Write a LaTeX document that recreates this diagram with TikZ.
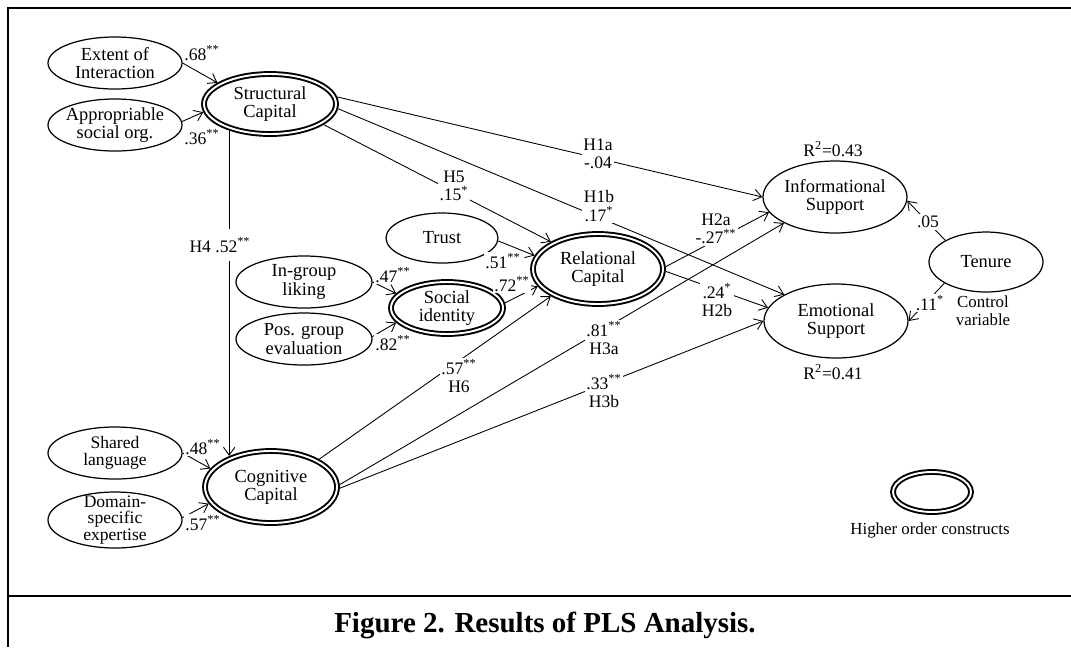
\documentclass[tikz,border=0pt]{standalone}
\usepackage{fontspec}
\setmainfont{Liberation Serif}
\usetikzlibrary{shapes.geometric,arrows.meta}
\tikzset{
  oval/.style 2 args={ellipse, draw, line width=0.7pt, minimum width=#1*0.02cm, minimum height=#2*0.02cm, inner sep=0pt},
  dbl/.style 2 args={ellipse, draw, line width=1.1pt, double, double distance=1.1pt, minimum width=#1*0.02cm, minimum height=#2*0.02cm, inner sep=0pt, outer sep=1.65pt},
  txt/.style={align=center, font=\fontsize{10.5}{10.4}\selectfont, inner sep=0pt},
  tighttxt/.style={align=center, font=\fontsize{10}{9.5}\selectfont, inner sep=0pt},
  conn/.style={line width=0.5pt, -{Straight Barb[length=4.5pt,width=6.5pt,line width=0.5pt]}},
  lab/.style={fill=white, inner sep=1pt, align=center, font=\fontsize{10}{10.4}\selectfont},
  note/.style={align=center, inner sep=0pt, font=\fontsize{9.6}{10.4}\selectfont},
  frame/.style={line width=1.2pt},
}
\begin{document}
\begin{tikzpicture}[x=0.02cm,y=-0.02cm]
\useasboundingbox (0,0) rectangle (1071,647);
\draw[frame] (1071,8) -- (8,8) -- (8,647);
\draw[frame] (8,596) -- (1071,596);

% ellipses
\node[oval={134}{52}] (ext) at (115,63) {};
\node[txt] (extT) at (ext) {Extent of\\Interaction};
\node[oval={134}{52}] (apso) at (115,125) {};
\node[txt] (apsoT) at (apso) {Appropriable\\social org.};
\node[dbl={132}{60}] (str) at (270,104) {};
\node[txt] (strT) at (str) {Structural\\Capital};
\node[oval={112}{50}] (trust) at (442,238) {};
\node[txt] (trustT) at (trust) {Trust};
\node[oval={136}{52}] (ingl) at (304,282) {};
\node[txt] (inglT) at (ingl) {In-group\\liking};
\node[oval={136}{52}] (posg) at (304,339) {};
\node[txt] (posgT) at (posg) {Pos. group\\evaluation};
\node[dbl={112}{52}] (soc) at (447,308) {};
\node[txt] (socT) at (soc) {Social\\identity};
\node[dbl={130}{70}] (rel) at (598,269) {};
\node[txt] (relT) at (rel) {Relational\\Capital};
\node[oval={144}{72}] (info) at (835,197) {};
\node[txt] (infoT) at (info) {Informational\\Support};
\node[oval={144}{74}] (emo) at (836,321) {};
\node[txt] (emoT) at (emo) {Emotional\\Support};
\node[oval={114}{60}] (ten) at (986,262) {};
\node[txt] (tenT) at (ten) {Tenure};
\node[oval={134}{52}] (shl) at (115,453) {};
\node[tighttxt] (shlT) at (shl) {Shared\\language};
\node[oval={134}{56}] (dom) at (115,520) {};
\node[tighttxt] (domT) at (dom) {Domain-\\specific\\expertise};
\node[dbl={132}{72}] (cog) at (271,487) {};
\node[txt] (cogT) at (cog) {Cognitive\\Capital};
\node[dbl={78}{40}] (leg) at (932,492) {};

% connectors
\draw[conn] (ext.0) -- (str.158);
\draw[conn] (apso.3) -- (str.-173);
\draw[conn] (str.-147) -- (str.-147 |- cog.143);
\draw[conn] (str.-21) -- (rel.150);
\draw[conn] (str.6) -- (info.180);
\draw[conn] (str.-4) -- (emo.153);
\draw[conn] (rel.2) -- (info.-167);
\draw[conn] (rel.-2) -- (emo.169);
\draw[conn] (cog.30) -- (rel.-150);
\draw[conn] (cog.2) -- (info.-153);
\draw[conn] (cog.-1) -- (emo.180);
\draw[conn] (trust.-3) -- (rel.168);
\draw[conn] (soc.5) -- (rel.196);
\draw[conn] (ingl.0) -- (soc.164);
\draw[conn] (posg.2) -- (soc.-164);
\draw[conn] (shl.0) -- (cog.163);
\draw[conn] (dom.2) -- (cog.-165);
\draw[conn] (ten.152) -- (info.-3);
\draw[conn] (ten.-153) -- (emo.0);

% labels
\node[lab] (l68) at (202,53) {.68\textsuperscript{**}};
\node[lab] (l36) at (202,137) {.36\textsuperscript{**}};
\node[lab, inner ysep=5pt] (lH4) at (220,245) {H4 .52\textsuperscript{**}};
\node[lab] (lH5) at (454,186) {H5\\.15\textsuperscript{*}};
\node[lab] (lH1a) at (598,154) {H1a\\-.04};
\node[lab] (lH1b) at (599,206) {H1b\\.17\textsuperscript{*}};
\node[lab] (lH2a) at (716,229) {H2a\\-.27\textsuperscript{**}};
\node[lab] (lH2b) at (717,300) {.24\textsuperscript{*}\\H2b};
\node[lab] (lH6) at (459,376) {.57\textsuperscript{**}\\H6};
\node[lab] (lH3a) at (604,338) {.81\textsuperscript{**}\\H3a};
\node[lab] (lH3b) at (604,391) {.33\textsuperscript{**}\\H3b};
\node[lab] (l51) at (503,261) {.51\textsuperscript{**}};
\node[lab] (l72) at (512,284) {.72\textsuperscript{**}};
\node[lab] (l47) at (393,275) {.47\textsuperscript{**}};
\node[lab] (l82) at (393,343) {.82\textsuperscript{**}};
\node[lab] (l48) at (203,447) {.48\textsuperscript{**}};
\node[lab] (l57) at (203,523) {.57\textsuperscript{**}};
\node[lab] (l05) at (928,222) {.05};
\node[lab] (l11) at (930,303) {.11\textsuperscript{*}};
\node[lab] (r43) at (833,149) {R\textsuperscript{2}=0.43};
\node[lab] (r41) at (833,372) {R\textsuperscript{2}=0.41};
\node[note] (ctrl) at (983,311) {Control\\variable};
\node[note] (hoc) at (930,530) {Higher order constructs};
\node[font=\fontsize{16.5}{18}\selectfont\bfseries, inner sep=0pt] (cap) at (545,625) {Figure 2. Results of PLS Analysis.};
\end{tikzpicture}
\end{document}
